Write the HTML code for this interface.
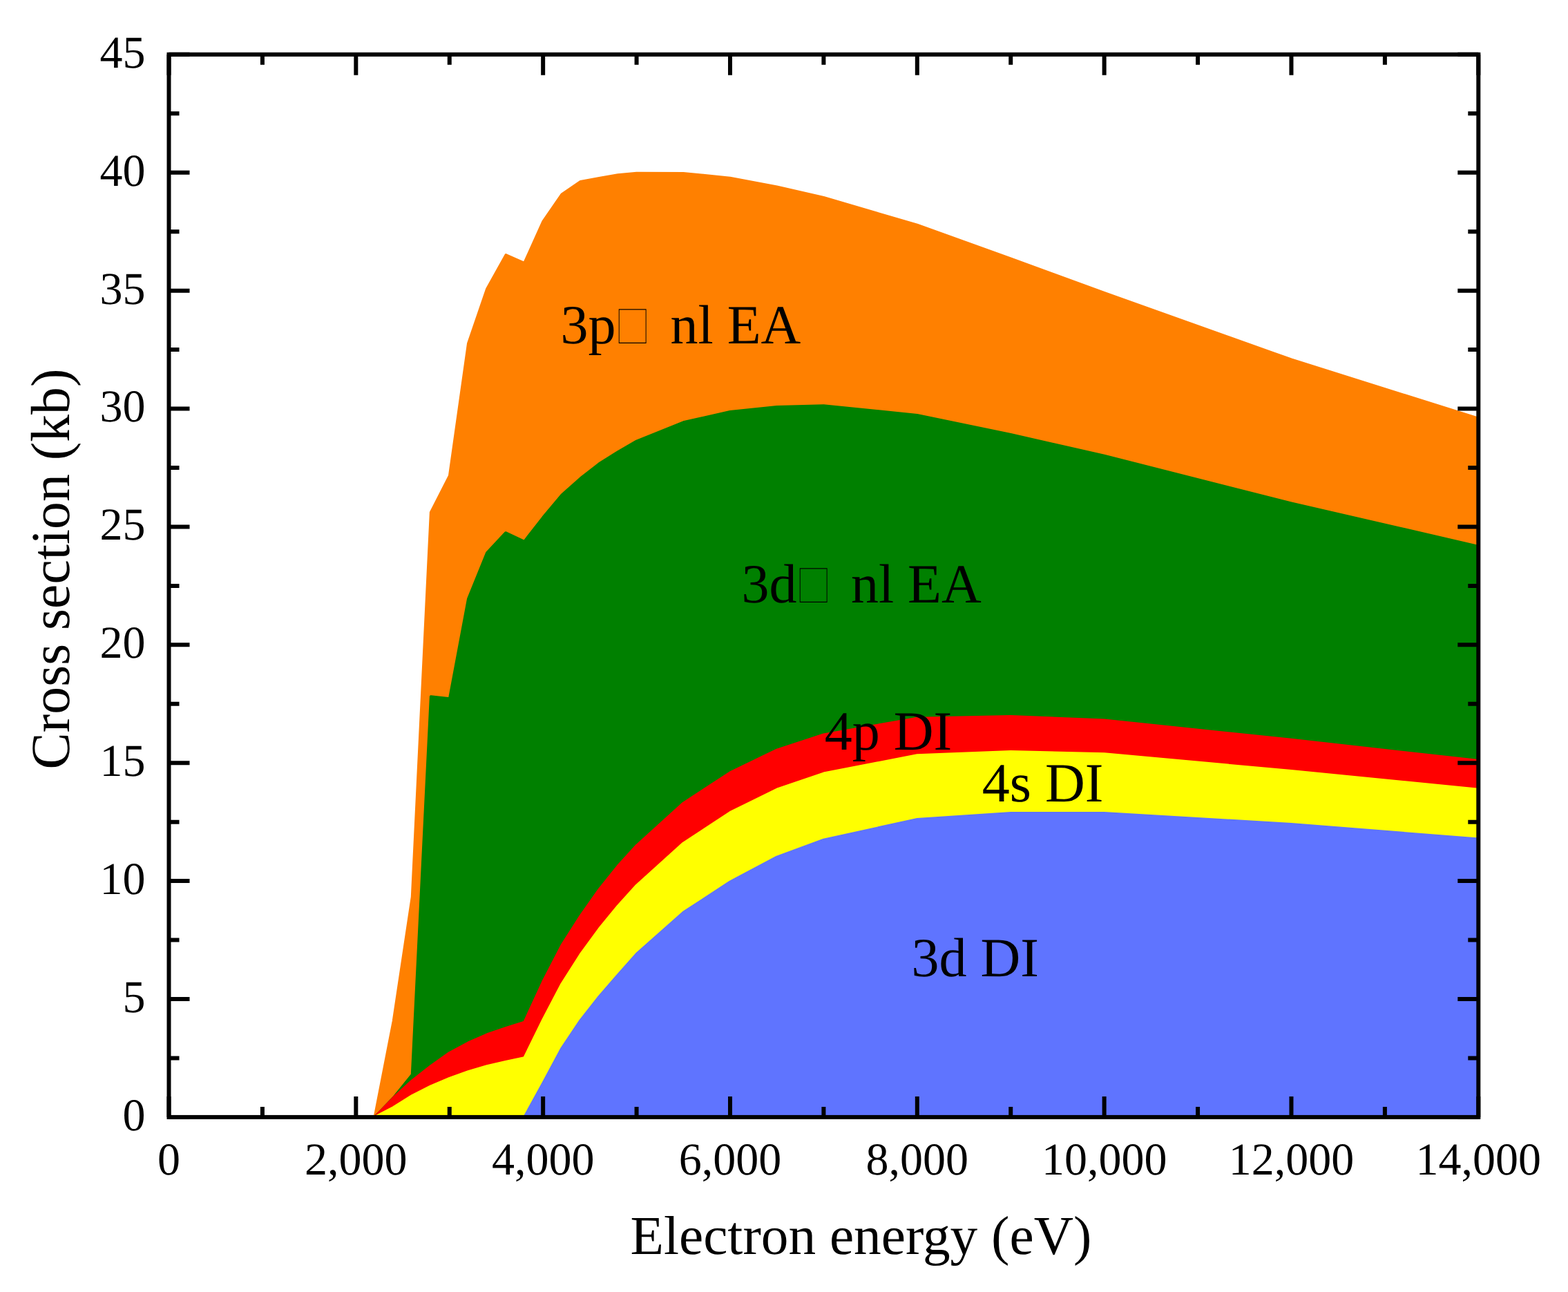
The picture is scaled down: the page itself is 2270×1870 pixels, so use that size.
<!DOCTYPE html>
<html lang="en"><head><meta charset="utf-8"><title>Cross section vs electron energy</title>
<style>
html,body{margin:0;padding:0;background:#fff;}
body{width:2270px;height:1870px;}
svg{display:block;}
text{font-family:"Liberation Serif",serif;fill:#000;text-rendering:geometricPrecision;}
.tk{font-size:66px;}
.lb{font-size:80px;}
</style></head><body>
<svg width="2270" height="1870" viewBox="0 0 2270 1870">
<rect width="2270" height="1870" fill="#fff"/>
<g id="areas" stroke-width="3.60" stroke-linejoin="round">
<path d="M542.41,1616.90 L542.41,1616.90 L569.49,1478.01 L596.58,1298.38 L623.66,741.67 L650.74,688.45 L677.83,497.02 L704.91,418.12 L732.39,368.79 L759.07,380.53 L786.16,320.60 L813.24,281.20 L840.32,262.80 L867.41,257.67 L894.49,253.09 L921.57,250.60 L989.28,250.70 L1056.99,257.58 L1124.69,270.26 L1192.40,285.74 L1327.81,325.51 L1463.23,374.19 L1598.64,423.69 L1869.47,520.31 L2140.30,605.52 L2140.30,1616.90 Z" fill="#FF8000" stroke="#FF8000"/>
<path d="M542.41,1616.90 L542.41,1616.90 L569.49,1588.78 L596.58,1555.49 L623.66,1008.13 L650.74,1011.01 L677.83,866.61 L704.91,799.97 L731.99,770.99 L759.07,783.52 L786.16,748.75 L813.24,716.46 L840.32,692.29 L867.41,671.08 L894.49,653.95 L921.57,638.42 L989.28,611.12 L1056.99,595.88 L1124.69,588.70 L1192.40,587.00 L1327.81,600.78 L1463.23,628.76 L1598.64,659.55 L1869.47,728.25 L2140.30,790.65 L2140.30,1616.90 Z" fill="#008000" stroke="#008000"/>
<path d="M542.41,1616.90 L542.41,1616.90 L569.49,1588.88 L596.58,1564.17 L623.66,1542.94 L650.74,1523.73 L677.83,1509.22 L704.91,1497.28 L731.99,1488.01 L759.07,1479.49 L786.16,1420.70 L813.24,1368.21 L840.32,1325.81 L867.41,1287.29 L894.49,1253.58 L921.57,1223.77 L989.28,1162.43 L1056.99,1118.17 L1124.69,1085.37 L1192.40,1063.15 L1327.81,1039.50 L1463.23,1036.70 L1598.64,1042.30 L1869.47,1070.59 L2140.30,1100.79 L2140.30,1616.90 Z" fill="#FF0000" stroke="#FF0000"/>
<path d="M542.41,1616.90 L542.41,1616.90 L569.49,1602.84 L596.58,1585.87 L623.66,1572.13 L650.74,1560.68 L677.83,1550.91 L704.91,1542.94 L731.99,1536.86 L759.07,1531.09 L786.16,1475.82 L813.24,1424.11 L840.32,1381.62 L867.41,1344.51 L894.49,1311.38 L921.57,1281.58 L989.28,1220.43 L1056.99,1175.96 L1124.69,1142.56 L1192.40,1119.34 L1327.81,1093.09 L1463.23,1087.90 L1598.64,1091.10 L1869.47,1115.79 L2140.30,1142.59 L2140.30,1616.90 Z" fill="#FFFF00" stroke="#FFFF00"/>
<path d="M759.07,1616.90 L759.07,1616.90 L786.16,1567.56 L813.24,1517.14 L840.32,1476.77 L867.41,1442.35 L894.49,1411.09 L921.57,1380.58 L989.28,1320.63 L1056.99,1276.25 L1124.69,1240.45 L1192.40,1215.43 L1327.81,1185.79 L1463.23,1176.80 L1598.64,1176.80 L1869.47,1192.80 L2140.30,1214.39 L2140.30,1616.90 Z" fill="#5F74FF" stroke="#5F74FF"/>
</g>
<g id="ticks" stroke="#000" stroke-width="6.00" fill="none">
<path d="M244.50,1616.90 v-30.00 M244.50,78.85 v30.00 M379.91,1616.90 v-15.00 M379.91,78.85 v15.00 M515.33,1616.90 v-30.00 M515.33,78.85 v30.00 M650.74,1616.90 v-15.00 M650.74,78.85 v15.00 M786.16,1616.90 v-30.00 M786.16,78.85 v30.00 M921.57,1616.90 v-15.00 M921.57,78.85 v15.00 M1056.99,1616.90 v-30.00 M1056.99,78.85 v30.00 M1192.40,1616.90 v-15.00 M1192.40,78.85 v15.00 M1327.81,1616.90 v-30.00 M1327.81,78.85 v30.00 M1463.23,1616.90 v-15.00 M1463.23,78.85 v15.00 M1598.64,1616.90 v-30.00 M1598.64,78.85 v30.00 M1734.06,1616.90 v-15.00 M1734.06,78.85 v15.00 M1869.47,1616.90 v-30.00 M1869.47,78.85 v30.00 M2004.89,1616.90 v-15.00 M2004.89,78.85 v15.00 M2140.30,1616.90 v-30.00 M2140.30,78.85 v30.00 M244.50,1616.90 h30.00 M2140.30,1616.90 h-30.00 M244.50,1531.45 h15.00 M2140.30,1531.45 h-15.00 M244.50,1446.01 h30.00 M2140.30,1446.01 h-30.00 M244.50,1360.56 h15.00 M2140.30,1360.56 h-15.00 M244.50,1275.11 h30.00 M2140.30,1275.11 h-30.00 M244.50,1189.66 h15.00 M2140.30,1189.66 h-15.00 M244.50,1104.22 h30.00 M2140.30,1104.22 h-30.00 M244.50,1018.77 h15.00 M2140.30,1018.77 h-15.00 M244.50,933.32 h30.00 M2140.30,933.32 h-30.00 M244.50,847.88 h15.00 M2140.30,847.88 h-15.00 M244.50,762.43 h30.00 M2140.30,762.43 h-30.00 M244.50,676.98 h15.00 M2140.30,676.98 h-15.00 M244.50,591.53 h30.00 M2140.30,591.53 h-30.00 M244.50,506.09 h15.00 M2140.30,506.09 h-15.00 M244.50,420.64 h30.00 M2140.30,420.64 h-30.00 M244.50,335.19 h15.00 M2140.30,335.19 h-15.00 M244.50,249.74 h30.00 M2140.30,249.74 h-30.00 M244.50,164.30 h15.00 M2140.30,164.30 h-15.00 M244.50,78.85 h30.00 M2140.30,78.85 h-30.00"/>
</g>
<rect x="244.50" y="78.85" width="1895.80" height="1538.05" fill="none" stroke="#000" stroke-width="6.00"/>
<g class="tk" text-anchor="end">
<text x="210.40" y="1635.80">0</text>
<text x="210.40" y="1464.91">5</text>
<text x="210.40" y="1294.01">10</text>
<text x="210.40" y="1123.12">15</text>
<text x="210.40" y="952.22">20</text>
<text x="210.40" y="781.33">25</text>
<text x="210.40" y="610.43">30</text>
<text x="210.40" y="439.54">35</text>
<text x="210.40" y="268.64">40</text>
<text x="210.40" y="97.75">45</text>
</g>
<g class="tk" text-anchor="middle">
<text x="244.50" y="1699.60">0</text>
<text x="515.33" y="1699.60">2,000</text>
<text x="786.16" y="1699.60">4,000</text>
<text x="1056.99" y="1699.60">6,000</text>
<text x="1327.81" y="1699.60">8,000</text>
<text x="1598.64" y="1699.60">10,000</text>
<text x="1869.47" y="1699.60">12,000</text>
<text x="2140.30" y="1699.60">14,000</text>
</g>
<text class="lb" x="912.5" y="1814.8" style="font-size:79.3px">Electron energy (eV)</text>
<text class="lb" transform="translate(99.7,1113.4) rotate(-90)" style="font-size:79.7px">Cross section (kb)</text>
<text class="lb" x="811.50" y="496.80" xml:space="preserve">3p<tspan x="894.80" y="497.78" font-size="86.4" textLength="41.9" lengthAdjust="spacingAndGlyphs" stroke="#FF8000" stroke-width="1.95" style="font-size:86.4px">&#x25A1;</tspan><tspan x="950.50" y="496.80"> nl EA</tspan></text>
<text class="lb" x="1073.50" y="871.90" xml:space="preserve">3d<tspan x="1156.80" y="872.88" font-size="86.4" textLength="41.9" lengthAdjust="spacingAndGlyphs" stroke="#008000" stroke-width="1.95" style="font-size:86.4px">&#x25A1;</tspan><tspan x="1211.90" y="871.90"> nl EA</tspan></text>
<text class="lb" x="1193.8" y="1084.7">4p DI</text>
<text class="lb" x="1421.8" y="1160">4s DI</text>
<text class="lb" x="1319.5" y="1412.9">3d DI</text>
</svg>
</body></html>
